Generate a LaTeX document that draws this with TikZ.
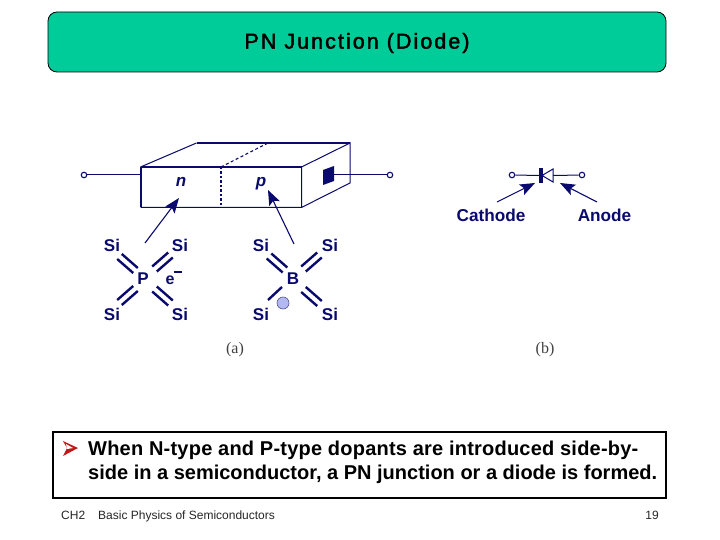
\documentclass[tikz,border=0pt]{standalone}
\usepackage{fontspec}
\setmainfont{Liberation Sans}
\newfontfamily\serifb{Liberation Serif}
\newfontfamily\titlefont[LetterSpace=9.5,FakeBold=2]{Liberation Sans}
\newfontfamily\spacedbold[LetterSpace=1.1]{Liberation Sans Bold}
\usetikzlibrary{arrows.meta}
\definecolor{navy}{HTML}{0A0A6E}
\definecolor{titlegreen}{HTML}{00CC99}
\definecolor{holeblue}{HTML}{B4B8F0}
\definecolor{bulletred}{HTML}{C01818}
\tikzset{
 wire/.style={draw=navy,line width=1pt},
 thickedge/.style={draw=navy,line width=2pt},
 term/.style={circle,draw=navy,line width=1.1pt,fill=white,inner sep=0pt,minimum size=5.5pt},
 pointer/.style={draw=navy,line width=1.1pt,-{Stealth[length=15pt,width=11.5pt,inset=3pt]}},
 atom/.style={text=navy,font=\fontsize{17}{17}\selectfont\bfseries,inner sep=0pt},
 si/.style={atom},
 bondline/.style={draw=navy,line width=2.4pt},
 caption/.style={text=black!75,font=\serifb\fontsize{16}{16}\selectfont,inner sep=0pt},
 foot/.style={font=\fontsize{12}{12}\selectfont,inner sep=0pt,text=black!85},
}
% double bond centred on (#1,#2), direction (#3,#4), normal offset (#5,#6)
\newcommand{\dbond}[6]{%
 \draw[bondline] ({#1+#3+#5},{#2+#4+#6}) -- ({#1-#3+#5},{#2-#4+#6});
 \draw[bondline] ({#1+#3-#5},{#2+#4-#6}) -- ({#1-#3-#5},{#2-#4-#6});}
\begin{document}
\begin{tikzpicture}[x=1pt,y=-1pt]
\useasboundingbox (0,0) rectangle (720,540);
\fill[white] (0,0) rectangle (720,540);
% title
\node[draw=black,line width=0.8pt,rounded corners=9pt,fill=titlegreen,minimum width=618pt,minimum height=60pt,inner sep=0pt] (titlebox) at (357,42) {};
\node[font=\titlefont\fontsize{21.5}{21.5}\selectfont,inner sep=0pt] (title) at (357,43) {PN Junction (Diode)};
% block
\coordinate (fl) at (140.5,167); \coordinate (fr) at (301.5,167);
\coordinate (bl) at (140.5,207.5); \coordinate (br) at (301.5,207.5);
\coordinate (tl) at (196.5,143); \coordinate (tr) at (350,143);
\coordinate (rb) at (350,183);
\coordinate (mt) at (221,167); \coordinate (mb) at (221,207.5); \coordinate (mk) at (268,143);
\draw[thickedge] (tl) -- (tr);
\draw[wire] (fl) -- (tl);
\draw[thickedge] (fl) -- (fr);
\draw[thickedge] (fl) -- (bl);
\draw[wire] (bl) -- (br) -- (fr) -- (tr) -- (rb) -- (br);
\draw[navy,line width=1.4pt,dash pattern=on 2.5pt off 2pt] (mt) -- (mb);
\draw[navy,line width=1.1pt,dash pattern=on 3pt off 2.5pt] (mt) -- (mk);
\fill[navy] (323,170) -- (334,166) -- (334,181) -- (323,185) -- cycle;
\coordinate (sq) at (330,175);
\node[term] (tA) at (84,175) {};
\node[term] (tB) at (390,175) {};
\draw[wire] (tA) -- (140.5,175);
\draw[wire] (sq) -- (tB);
\node[text=navy,font=\fontsize{17}{17}\selectfont\bfseries\itshape,inner sep=0pt] (n) at (181,182) {n};
\node[text=navy,font=\fontsize{17}{17}\selectfont\bfseries\itshape,inner sep=0pt] (p) at (261,184) {p};
\coordinate (na) at (145,243); \coordinate (nb) at (179,198);
\coordinate (pa) at (294,244); \coordinate (pb) at (268,190);
\draw[pointer] (na) -- (nb);
\draw[pointer] (pa) -- (pb);
% left atom group
\node[si] (s1) at (112,245) {Si};
\node[si] (s2) at (180,245) {Si};
\node[si] (s3) at (112,314) {Si};
\node[si] (s4) at (180,314) {Si};
\node[atom] (P) at (143,279) {P};
\node[text=navy,font=\fontsize{16}{16}\selectfont\bfseries,inner sep=0pt] (e) at (170,280) {e};
\draw[navy,line width=1.8pt] (173.5,272) -- (182,272);
\dbond{127.5}{263.5}{8}{7}{2.3}{-2.5}
\dbond{162.5}{262}{-8}{7}{2.3}{2.5}
\dbond{127.5}{295.5}{8}{-7}{2.3}{2.5}
\dbond{162.5}{296}{8}{7}{2.3}{-2.5}
% right atom group
\node[si] (s5) at (261,245) {Si};
\node[si] (s6) at (330,245) {Si};
\node[si] (s7) at (261,314) {Si};
\node[si] (s8) at (330,314) {Si};
\node[atom] (B) at (293,279) {B};
\dbond{277}{263}{8}{7}{2.3}{-2.5}
\dbond{311.5}{262}{-8}{7}{2.3}{2.5}
\draw[bondline] (268,300) -- (282,287);
\dbond{311.5}{296.5}{8}{7}{2.3}{-2.5}
\node[circle,draw=navy!70,line width=0.6pt,fill=holeblue,minimum size=12pt,inner sep=0pt] (hole) at (283,303) {};
\node[caption] (capa) at (235,350) {(a)};
% diode
\node[term] (cT) at (512,175) {};
\node[term] (aT) at (582,175) {};
\coordinate (dk) at (541,175.5);
\coordinate (da) at (553,175.5);
\draw[wire] (cT) -- (dk);
\draw[wire] (da) -- (aT);
\fill[navy] (539,168) rectangle (543,183);
\draw[wire] (542,175.5) -- (553,169) -- (553,182) -- cycle;
\node[text=navy,font=\fontsize{17.2}{17}\selectfont\bfseries,inner sep=0pt] (cath) at (491,215.5) {Cathode};
\node[text=navy,font=\fontsize{17.2}{17}\selectfont\bfseries,inner sep=0pt] (anod) at (604.5,215.5) {Anode};
\coordinate (ca) at (497,202); \coordinate (cb) at (535,183);
\coordinate (aa) at (597,202); \coordinate (ab) at (560,183);
\draw[pointer] (ca) -- (cb);
\draw[pointer] (aa) -- (ab);
\node[caption] (capb) at (545,350) {(b)};
% text box
\node[draw=black,line width=2pt,fill=white,minimum width=613pt,minimum height=66pt,inner sep=0pt] (box) at (359.5,465) {};
\fill[bulletred] (63,441) -- (78,448) -- (63,456) -- (67,448) -- cycle;
\fill[white] (66,444) -- (73,448) -- (67,449) -- cycle;
\node[anchor=base west,font=\spacedbold\fontsize{20}{20}\selectfont,inner sep=0pt] (l1) at (88,455) {When N-type and P-type dopants are introduced side-by-};
\node[anchor=base west,font=\fontsize{20}{20}\selectfont\bfseries,inner sep=0pt] (l2) at (88,479) {side in a semiconductor, a PN junction or a diode is formed.};
% footer
\node[foot,anchor=base west] (f1) at (61,519) {CH2};
\node[foot,anchor=base west] (f2) at (98,519) {Basic Physics of Semiconductors};
\node[foot,anchor=base east] (f3) at (659,519) {19};
\end{tikzpicture}
\end{document}
